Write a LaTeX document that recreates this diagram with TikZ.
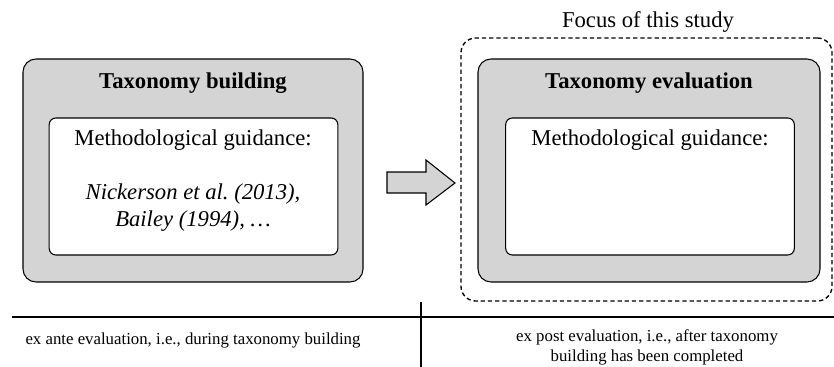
\documentclass[tikz,border=0pt]{standalone}
\usepackage{fontspec}
\setmainfont{Liberation Serif}
\definecolor{boxgray}{HTML}{D4D4D4}
\tikzset{
  outerbox/.style={draw, fill=boxgray, rounded corners=9.75pt, line width=0.8pt,
    minimum height=167.25pt, inner sep=0pt},
  innerbox/.style={draw, fill=white, rounded corners=5pt, line width=0.8pt,
    minimum width=216.5pt, minimum height=102.75pt, inner sep=0pt},
  bigtext/.style={font=\fontsize{17}{20}\selectfont, inner sep=0pt},
  smalltext/.style={font=\fontsize{12.6}{15}\selectfont, inner sep=0pt, align=center}
}

\begin{document}
\begin{tikzpicture}[x=0.75pt, y=-0.75pt]
  \useasboundingbox (0,0) rectangle (834,367);

  % focus frame
  \node (focus) [draw, dash pattern=on 3.2pt off 2.2pt, rounded corners=11pt, line width=1pt,
    minimum width=278.25pt, minimum height=197.25pt, inner sep=0pt] at (646.5,169.5) {};
  \node (focuslabel) [bigtext] at (648,22) {Focus of this study};

  % the two stages
  \node (build) [outerbox, minimum width=255pt] at (193,170.5) {};
  \node (eval) [outerbox, minimum width=256.5pt] at (649,170.5) {};
  \node (buildguide) [innerbox] at (193.5,186.5) {};
  \node (evalguide) [innerbox] at (650,186.5) {};

  \node (buildtitle) [bigtext, font=\fontsize{17}{20}\selectfont\bfseries] at (193,83) {Taxonomy building};
  \node (evaltitle) [bigtext, font=\fontsize{17}{20}\selectfont\bfseries] at (649,83) {Taxonomy evaluation};
  \node (buildmeth) [bigtext] at (193,140) {Methodological guidance:};
  \node (evalmeth) [bigtext] at (650,140) {Methodological guidance:};
  \node (refs) [bigtext, align=center, font=\fontsize{17}{20.25}\selectfont\itshape] at (193,207.5)
    {Nickerson et al.\ (2013),\\Bailey (1994), \dots};

  \draw[fill=boxgray, line width=0.8pt] (387,172) -- (426,172) -- (426,160) -- (455,183)
    -- (426,205) -- (426,193) -- (387,193) -- cycle;

  % time line
  \draw[line width=0.9pt] (12,317) -- (834,317);
  \draw[line width=0.8pt] (421,302) -- (421,367);
  \node (exante) [smalltext] at (193,340) {ex ante evaluation, i.e., during taxonomy building};
  \node (expost) [smalltext] at (647,347) {ex post evaluation, i.e., after taxonomy\\building has been completed};
\end{tikzpicture}
\end{document}
